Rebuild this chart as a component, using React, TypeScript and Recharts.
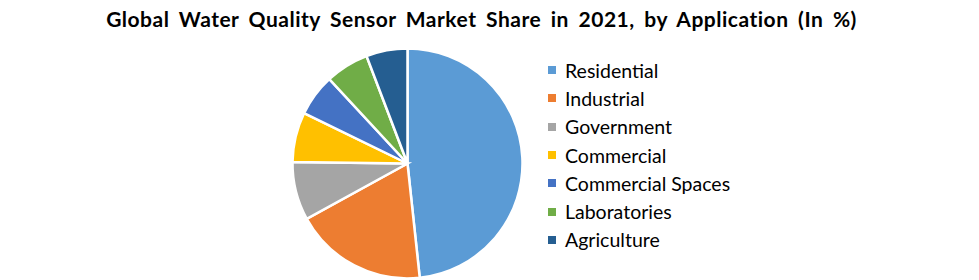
import { Cell, Legend, Pie, PieChart } from 'recharts'

const CATEGORIES = [
  'Residential',
  'Industrial',
  'Government',
  'Commercial',
  'Commercial Spaces',
  'Laboratories',
  'Agriculture',
]
const SHARES = [48.3, 18.7, 8.2, 7.0, 5.9, 6.1, 5.8]
const COLORS = ['#5B9BD5', '#ED7D31', '#A5A5A5', '#FFC000', '#4472C4', '#70AD47', '#255E91']

const TITLE = 'Global Water Quality Sensor Market Share in 2021, by Application (In %)'
const FONT = 'Lato, "Noto Sans", sans-serif'

const data = CATEGORIES.map((name, i) => ({ name, value: SHARES[i] }))

function LegendList() {
  return (
    <ul style={{ listStyle: 'none', margin: 0, padding: 0, fontFamily: FONT }}>
      {CATEGORIES.map((name, i) => (
        <li
          key={name}
          style={{ display: 'flex', alignItems: 'center', height: 28.3, fontSize: 19.5, color: '#000' }}
        >
          <span
            style={{ width: 8, height: 8, background: COLORS[i], marginRight: 9, display: 'inline-block' }}
          />
          {name}
        </li>
      ))}
    </ul>
  )
}

export default function App() {
  return (
    <div style={{ position: 'absolute', left: 0, top: 0, width: 979, height: 280, background: '#fff' }}>
      <div
        style={{
          position: 'absolute',
          left: 0,
          top: 6,
          width: 963,
          textAlign: 'center',
          fontFamily: FONT,
          fontWeight: 700,
          fontSize: 21,
          letterSpacing: 0.5,
          wordSpacing: 4,
          color: '#000',
          whiteSpace: 'nowrap',
        }}
      >
        {TITLE}
      </div>
      <PieChart width={979} height={280} margin={{ top: 0, right: 0, bottom: 0, left: 0 }}>
        <Pie
          data={data}
          dataKey="value"
          nameKey="name"
          cx={407.5}
          cy={163.5}
          outerRadius={115}
          startAngle={90}
          endAngle={-270}
          stroke="#fff"
          strokeWidth={2.5}
          isAnimationActive={false}
        >
          {data.map((d, i) => (
            <Cell key={d.name} fill={COLORS[i]} />
          ))}
        </Pie>
        <Legend
          layout="vertical"
          content={() => <LegendList />}
          wrapperStyle={{ position: 'absolute', left: 548, top: 56, width: 220 }}
        />
      </PieChart>
    </div>
  )
}
